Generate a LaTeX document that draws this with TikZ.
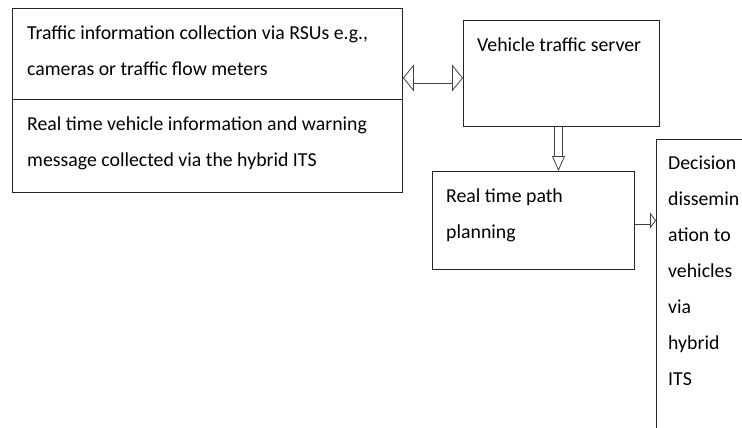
\documentclass[tikz,border=0pt]{standalone}
\usepackage{fontspec}
\setmainfont{Carlito}
\usetikzlibrary{arrows.meta}
\usetikzlibrary{positioning}

\begin{document}
\begin{tikzpicture}[x=1pt, y=-1pt,
			box/.style={draw=black!85, line width=0.9pt, anchor=north west, inner sep=0pt},
			txt/.style={anchor=base west, inner sep=0pt, align=left, font=\fontsize{19.8}{36}\selectfont},
			hollow/.style={draw=black!75, line width=0.8pt, double, double distance=#1}
		]
		\useasboundingbox (0,0) rectangle (742,428);
		\clip (0,0) rectangle (742,428);

		% boxes
		\node[box, minimum width=390pt, minimum height=91pt] (rsu) at (12,8) {};
		\node[box, minimum width=390pt, minimum height=93pt] (its) at (12,99) {};
		\node[box, minimum width=196pt, minimum height=106pt] (srv) at (463,20) {};
		\node[box, minimum width=202pt, minimum height=98pt] (plan) at (432,171) {};
		\node[box, minimum width=120pt, minimum height=320pt] (dec) at (656,139) {};

		% texts (placed at the baseline of their last line)
		\node[txt] (rsutext) at (27,76) {Traffic information collection via RSUs e.g.,\\cameras or traffic flow meters};
		\node[txt] (itstext) at (27,166) {Real time vehicle information and warning\\message collected via the hybrid ITS};
		\node[txt] (srvtext) at (477,52) {Vehicle traffic server};
		\node[txt] (plantext) at (446,238) {Real time path\\planning};
		\node[txt] (dectext) at (668,385) {Decision\\dissemin\\ation to\\vehicles\\via\\hybrid\\ITS};

		% hollow arrows
		\draw[hollow=11pt, {Triangle[open, length=11pt, width=27pt]}-{Triangle[open, length=11pt, width=27pt]}]
			([yshift=-24pt]rsu.east) -- ([yshift=-4.5pt]srv.west);
		\draw[hollow=7pt, -{Triangle[open, length=15pt, width=13pt]}]
			([xshift=-3pt]srv.south) -- ([xshift=-3pt]srv.south |- plan.north);
		\draw[hollow=8pt, -{Triangle[open, length=6pt, width=16pt]}]
			(plan.east) -- (plan.east -| dec.west);
	\end{tikzpicture}
\end{document}
